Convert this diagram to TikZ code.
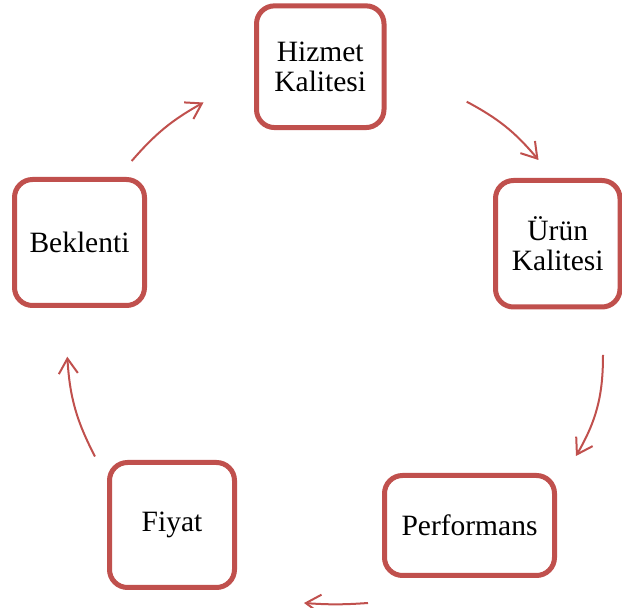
\documentclass[tikz,border=0pt]{standalone}
\usepackage{fontspec}
\setmainfont{Liberation Serif}
\usetikzlibrary{arrows.meta}
\definecolor{ringred}{HTML}{C0504D}
\tikzset{
  box/.style={draw=ringred, line width=5pt, rounded corners=18pt, fill=white,
    align=center, inner sep=0pt,
    font=\fontsize{29.5}{30}\selectfont},
  cyc/.style={draw=ringred, line width=2pt,
    -{Straight Barb[length=15pt,width=19pt,line width=2pt]}},
}
\begin{document}
\begin{tikzpicture}[x=1pt,y=1pt]
  \useasboundingbox (0,0) rectangle (622,608);

  % the five stages of the cycle
  \node[box, minimum width=127.5pt, minimum height=121.7pt] (hiz)   at (320.25,541.3) {Hizmet\\Kalitesi};
  \node[box, minimum width=124.5pt, minimum height=126.5pt] (urun)  at (557.75,364.25) {Ürün\\Kalitesi};
  \node[box, minimum width=170pt,   minimum height=100pt]   (perf)  at (469.5,82.5) {Performans};
  \node[box, minimum width=125pt,   minimum height=125pt]   (fiyat) at (172,83) {Fiyat};
  \node[box, minimum width=130pt,   minimum height=126pt]   (bek)   at (79.5,365.5) {Beklenti};

  % end points of the curved arrows between the stages
  \coordinate (a1s) at (131.7,447);   \coordinate (a1e) at (203.5,505.5);
  \coordinate (a2s) at (466.7,506.3); \coordinate (a2e) at (538.5,448);
  \coordinate (a3s) at (603,253);     \coordinate (a3e) at (576,152);
  \coordinate (a4s) at (368,5);       \coordinate (a4e) at (304,5);
  \coordinate (a5s) at (95,151.5);    \coordinate (a5e) at (67.3,251.3);

  \draw[cyc] (a1s) to[bend left=10] (a1e);
  \draw[cyc] (a2s) to[bend left=11] (a2e);
  \draw[cyc] (a3s) to[bend left=15] (a3e);
  \draw[cyc] (a4s) to[bend left=4]  (a4e);
  \draw[cyc] (a5s) to[bend left=12] (a5e);
\end{tikzpicture}
\end{document}
